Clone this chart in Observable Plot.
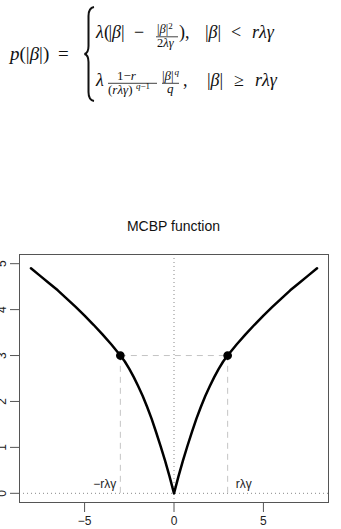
<!DOCTYPE html>
<html>
<head>
<meta charset="utf-8">
<script src="https://cdn.jsdelivr.net/npm/d3@7"></script>
<script src="https://cdn.jsdelivr.net/npm/@observablehq/plot@0.6"></script>
<style>
  html, body { margin: 0; padding: 0; background: #fff; }
  #wrap { position: relative; width: 341px; height: 529px; overflow: hidden; background: #fff; }
  #formula { position: absolute; left: 0; top: 0; }
  #title { position: absolute; left: 19px; width: 309px; top: 217px; text-align: center; z-index: 2;
           font-family: "Liberation Sans", Arial, sans-serif; font-size: 14px; line-height: 18px; color: #111; }
  #chart { position: absolute; left: 0; top: 210px; z-index: 1; }
  .m { font-family: "Liberation Serif", "Times New Roman", serif; fill: #111; }
  .i { font-style: italic; }
</style>
</head>
<body>
<div id="wrap">
  <svg id="formula" width="341" height="200" xmlns="http://www.w3.org/2000/svg">
    <!-- p(|β|) = -->
    <text class="m" x="10" y="60" font-size="19"><tspan class="i">p</tspan>(|<tspan class="i">β</tspan>|)</text>
    <text class="m" x="58" y="60" font-size="19">=</text>
    <!-- brace -->
    <path d="M 94 7 Q 88.5 8 88.5 16 L 88.5 46 Q 88.5 53 84.5 54 Q 88.5 55 88.5 62 L 88.5 92 Q 88.5 100 94 101" fill="none" stroke="#111" stroke-width="2"/>
    <!-- line 1 -->
    <text class="m i" x="96" y="38" font-size="18">λ</text>
    <text class="m" x="104" y="38" font-size="18">(</text>
    <text class="m" x="108.5" y="38" font-size="18">|<tspan class="i">β</tspan>|</text>
    <text class="m" x="134" y="38" font-size="18">−</text>
    <text class="m" x="157" y="32.5" font-size="12.5">|<tspan class="i">β</tspan>|<tspan font-size="9" dy="-4">2</tspan></text>
    <line x1="156" x2="178" y1="36.8" y2="36.8" stroke="#111" stroke-width="0.8"/>
    <text class="m" x="157" y="46.5" font-size="12.5">2<tspan class="i">λγ</tspan></text>
    <text class="m" x="179" y="38" font-size="18">),</text>
    <text class="m" x="205" y="38" font-size="18">|<tspan class="i">β</tspan>|</text>
    <text class="m" x="231" y="38" font-size="18">&lt;</text>
    <text class="m i" x="252" y="38" font-size="18">rλγ</text>
    <!-- line 2 -->
    <text class="m i" x="96" y="86" font-size="18">λ</text>
    <text class="m" x="117" y="79.5" font-size="13">1−<tspan class="i">r</tspan></text>
    <line x1="108" x2="157" y1="83.3" y2="83.3" stroke="#111" stroke-width="0.8"/>
    <text class="m" x="108" y="94" font-size="13">(<tspan class="i">rλγ</tspan>)</text>
    <text class="m" x="136" y="89" font-size="9"><tspan class="i">q</tspan>−1</text>
    <text class="m" x="162" y="79.5" font-size="13">|<tspan class="i">β</tspan>|</text>
    <text class="m i" x="174.5" y="75" font-size="9">q</text>
    <line x1="162" x2="179" y1="83.3" y2="83.3" stroke="#111" stroke-width="0.8"/>
    <text class="m i" x="167" y="93" font-size="13">q</text>
    <text class="m" x="183" y="86" font-size="18">,</text>
    <text class="m" x="207" y="86" font-size="18">|<tspan class="i">β</tspan>|</text>
    <text class="m" x="234" y="86" font-size="18">≥</text>
    <text class="m i" x="255" y="86" font-size="18">rλγ</text>
  </svg>
  <div id="title">MCBP function</div>
  <div id="chart"></div>
</div>
<script>
// Values
const beta = [-8, -7.5, -7, -6.5, -6, -5.5, -5, -4.5, -4, -3.5, -3, -2.75, -2.5, -2.25, -2, -1.75, -1.5, -1.25, -1, -0.75, -0.5, -0.25, 0,
              0.25, 0.5, 0.75, 1, 1.25, 1.5, 1.75, 2, 2.25, 2.5, 2.75, 3, 3.5, 4, 4.5, 5, 5.5, 6, 6.5, 7, 7.5, 8];
const penalty = [4.90, 4.74, 4.58, 4.42, 4.24, 4.06, 3.87, 3.67, 3.46, 3.24, 3.00, 2.87, 2.71, 2.53, 2.33, 2.12, 1.88, 1.62, 1.33, 1.03, 0.71, 0.37, 0,
                 0.37, 0.71, 1.03, 1.33, 1.62, 1.88, 2.12, 2.33, 2.53, 2.71, 2.87, 3.00, 3.24, 3.46, 3.67, 3.87, 4.06, 4.24, 4.42, 4.58, 4.74, 4.90];
const kneeX = [-3, 3];
const kneeY = [3, 3];
const kneeLabels = ["−rλγ", "rλγ"];
const labelY = 0.2;
const xTicks = [-5, 0, 5];
const yTicks = [0, 1, 2, 3, 4, 5];

const curve = beta.map((b, i) => ({b, p: penalty[i]}));
const knees = kneeX.map((x, i) => ({x, y: kneeY[i], label: kneeLabels[i]}));

const chart = Plot.plot({
  width: 341,
  height: 319,
  marginTop: 44,
  marginBottom: 27,
  marginLeft: 19,
  marginRight: 13,
  style: {fontFamily: "Liberation Sans, Arial, sans-serif", fontSize: "12px", background: "transparent", color: "#222"},
  x: {domain: [-8.64, 8.64]},
  y: {domain: [-0.2, 5.2]},
  marks: [
    Plot.ruleX([0], {stroke: "#888", strokeDasharray: "1,3"}),
    Plot.ruleY([0], {stroke: "#888", strokeDasharray: "1,3"}),
    Plot.ruleY(knees.slice(0, 1), {y: "y", x1: kneeX[0], x2: kneeX[1], stroke: "#c4c4c4", strokeDasharray: "6,5"}),
    Plot.ruleX(knees, {x: "x", y1: 0, y2: "y", stroke: "#c4c4c4", strokeDasharray: "6,5"}),
    Plot.line(curve, {x: "b", y: "p", stroke: "#000", strokeWidth: 2.5}),
    Plot.dot(knees, {x: "x", y: "y", r: 3.6, fill: "#000", stroke: "#000"}),
    Plot.text(knees.slice(0, 1), {x: "x", y: () => labelY, text: "label", textAnchor: "end", dx: -4, fontSize: 12, fill: "#222"}),
    Plot.text(knees.slice(1), {x: "x", y: () => labelY, text: "label", textAnchor: "start", dx: 8, fontSize: 12, fill: "#222"}),
    Plot.frame({stroke: "#555"}),
    Plot.axisX({ticks: xTicks, tickSize: 10, tickPadding: 4, fontSize: 12, stroke: "#555", fill: "#222", label: null}),
    Plot.axisY({ticks: yTicks, tickFormat: "d", tickSize: 9, tickPadding: 5, tickRotate: -90, fontSize: 12, stroke: "#555", fill: "#222", label: null})
  ]
});
document.getElementById("chart").appendChild(chart);
</script>
</body>
</html>
